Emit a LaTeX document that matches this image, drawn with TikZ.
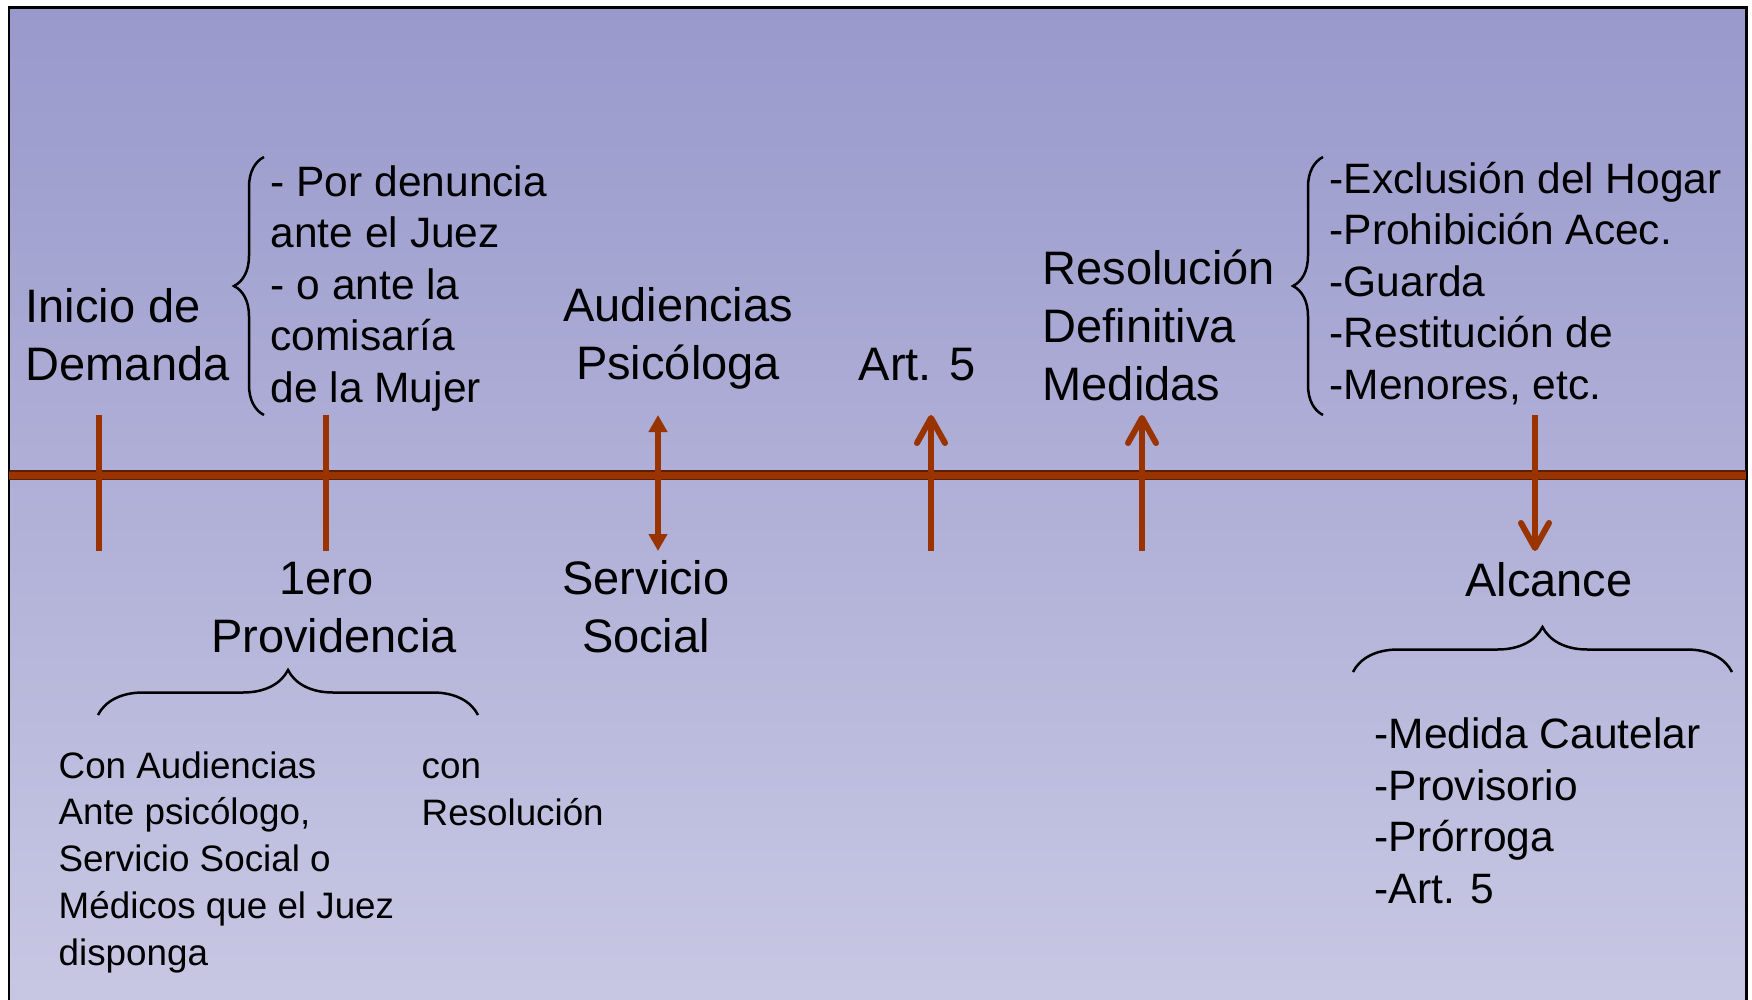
\documentclass[tikz,border=0pt]{standalone}
\usepackage{fontspec}
\setmainfont{Liberation Sans}
\usetikzlibrary{arrows.meta,decorations.pathreplacing}
\definecolor{rust}{RGB}{153,51,0}
\definecolor{rustdark}{RGB}{92,31,0}
\definecolor{bgtop}{RGB}{153,153,204}
\definecolor{bgbot}{RGB}{200,200,228}
\tikzset{
  big/.style={font=\fontsize{13.37pt}{16.5pt}\selectfont, inner sep=0pt, text=black},
  mid/.style={font=\fontsize{12.09pt}{14.65pt}\selectfont, inner sep=0pt, text=black},
  small/.style={font=\fontsize{10.47pt}{13.29pt}\selectfont, inner sep=0pt, text=black},
  tick/.style={draw=rust, line width=0.6mm},
  uparrow/.style={draw=rust, line width=0.6mm, -{Straight Barb[length=2.5mm,width=2.8mm,round]}},
  dblarrow/.style={draw=rust, line width=0.6mm, {Triangle[length=1.7mm,width=1.8mm]}-{Triangle[length=1.7mm,width=1.8mm]}},
  curly/.style={draw=black, line width=0.25mm, decorate},
}
\begin{document}
\begin{tikzpicture}[x=0.1mm,y=-0.1mm]
\useasboundingbox (0,0) rectangle (1752,1000);
\clip (0,0) rectangle (1752,1000);
% background frame
\fill[top color=bgtop, bottom color=bgbot] (9,7) rectangle (1746,1010);
\draw[line width=0.3mm, black] (9,1010) -- (9,7) -- (1746,7) -- (1746,1010);
% timeline
\coordinate (tl) at (9,475);
\coordinate (tr) at (1746,475);
\draw[rustdark, line width=0.95mm] (tl) -- (tr);
\draw[rust, line width=0.7mm] (tl) -- (tr);
% ticks and arrows
\coordinate (t1a) at (99,415);  \coordinate (t1b) at (99,551);
\coordinate (t2a) at (326,415); \coordinate (t2b) at (326,551);
\coordinate (d1a) at (658,415); \coordinate (d1b) at (658,551);
\coordinate (u1a) at (931,551); \coordinate (u1b) at (931,415);
\coordinate (u2a) at (1142,551); \coordinate (u2b) at (1142,415);
\coordinate (w1a) at (1535,415); \coordinate (w1b) at (1535,551);
\draw[tick] (t1a) -- (t1b);
\draw[tick] (t2a) -- (t2b);
\draw[dblarrow] (d1a) -- (d1b);
\draw[uparrow] (u1a) -- (u1b);
\draw[uparrow] (u2a) -- (u2b);
\draw[uparrow] (w1a) -- (w1b);
% top texts (base anchor = baseline of last line)
\node[big, anchor=base west, align=left] (inicio) at (25,380) {Inicio de\\Demanda};
\node[mid, anchor=base west, align=left] (via) at (270,402) {- Por denuncia\\ante el Juez\\- o ante la\\comisaría\\de la Mujer};
\draw[curly, decoration={brace, amplitude=3mm, aspect=0.5}] (264,415) -- (264,157);
\node[big, anchor=base, align=center] (aud) at (678,379) {Audiencias\\Psicóloga};
\node[big, anchor=base] (art) at (917,380) {Art. 5};
\node[big, anchor=base west, align=left] (res) at (1042,400) {Resolución\\Definitiva\\Medidas};
\draw[curly, decoration={brace, amplitude=3mm, aspect=0.5}] (1323,415) -- (1323,157);
\node[mid, anchor=base west, align=left] (med) at (1329,399) {-Exclusión del Hogar\\-Prohibición Acec.\\-Guarda\\-Restitución de\\-Menores, etc.};
% bottom texts
\node[big, anchor=base, align=center] (prov) at (334,652) {1ero\hspace*{1.5mm}\\Providencia};
\node[big, anchor=base, align=center] (serv) at (646,652) {Servicio\\Social};
\node[big, anchor=base] (alc) at (1549,596) {Alcance};
\draw[curly, decoration={brace, amplitude=4.5mm, aspect=0.5}] (98,715) -- (478,715);
\node[small, anchor=base west, align=left] (con) at (58,965) {Con Audiencias\\Ante psicólogo,\\Servicio Social o\\Médicos que el Juez\\disponga};
\node[small, anchor=base west, align=left] (conres) at (421,825) {con\\Resolución};
\draw[curly, decoration={brace, amplitude=4.5mm, aspect=0.5}] (1353,672) -- (1732,672);
\node[mid, anchor=base west, align=left] (alist) at (1374,903) {-Medida Cautelar\\-Provisorio\\-Prórroga\\-Art. 5};
\end{tikzpicture}
\end{document}
